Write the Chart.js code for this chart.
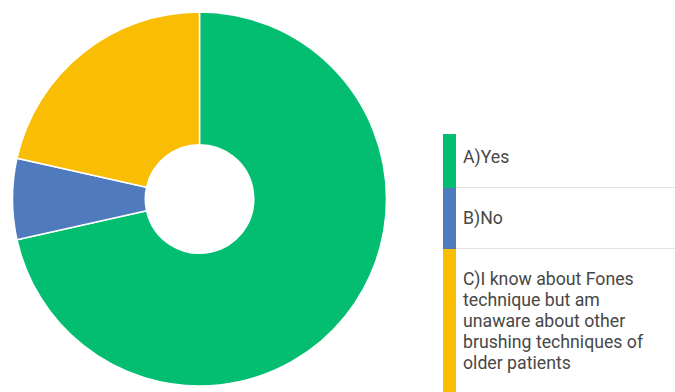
<!DOCTYPE html>
<html>
<head>
<meta charset="utf-8">
<script src="https://cdn.jsdelivr.net/npm/chart.js@4/dist/chart.umd.min.js"></script>
<style>
  html, body { margin: 0; padding: 0; background: #fff; }
  body { width: 675px; height: 392px; position: relative; overflow: hidden; font-family: Roboto, "Noto Sans", sans-serif; }
  #chartBox { position: absolute; left: 0; top: 0; width: 399px; height: 398px; }
  #legendClip { position: absolute; left: 443px; top: 134px; width: 232px; height: 258px; overflow: hidden; }
  #legend { margin-top: -7px; }
  .item { display: flex; }
  .swatch { width: 13px; flex: none; }
  .text { flex: 1; padding: 20px 0 19px 7px; border-bottom: 1px solid #e4e4e4;
          font-size: 17.7px; line-height: 21px; color: #474747; }
</style>
</head>
<body>
<div id="chartBox"><canvas id="c"></canvas></div>
<div id="legendClip"><div id="legend"></div></div>
<script>
// Survey answers and their share of respondents (%)
const categories = [
  'A)Yes',
  'B)No',
  ['C)I know about Fones', 'technique but am', 'unaware about other', 'brushing techniques of', 'older patients']
];
const shares = [71.5, 7.0, 21.5];
const colors = ['#03BE70', '#4F7BBE', '#F9BD03'];

new Chart(document.getElementById('c'), {
  type: 'doughnut',
  data: {
    labels: categories,
    datasets: [{
      data: shares,
      backgroundColor: colors,
      borderColor: '#ffffff',
      borderWidth: 1.5
    }]
  },
  options: {
    responsive: true,
    maintainAspectRatio: false,
    animation: false,
    radius: 187,
    cutout: 57.5,
    layout: { padding: 0 },
    plugins: { legend: { display: false }, tooltip: { enabled: false } }
  }
});

// Side legend: colour bar + label per answer
const legend = document.getElementById('legend');
categories.forEach((label, i) => {
  const item = document.createElement('div');
  item.className = 'item';
  const sw = document.createElement('div');
  sw.className = 'swatch';
  sw.style.background = colors[i];
  const tx = document.createElement('div');
  tx.className = 'text';
  (Array.isArray(label) ? label : [label]).forEach((line, j) => {
    if (j) tx.appendChild(document.createElement('br'));
    tx.appendChild(document.createTextNode(line));
  });
  item.appendChild(sw);
  item.appendChild(tx);
  legend.appendChild(item);
});
</script>
</body>
</html>
